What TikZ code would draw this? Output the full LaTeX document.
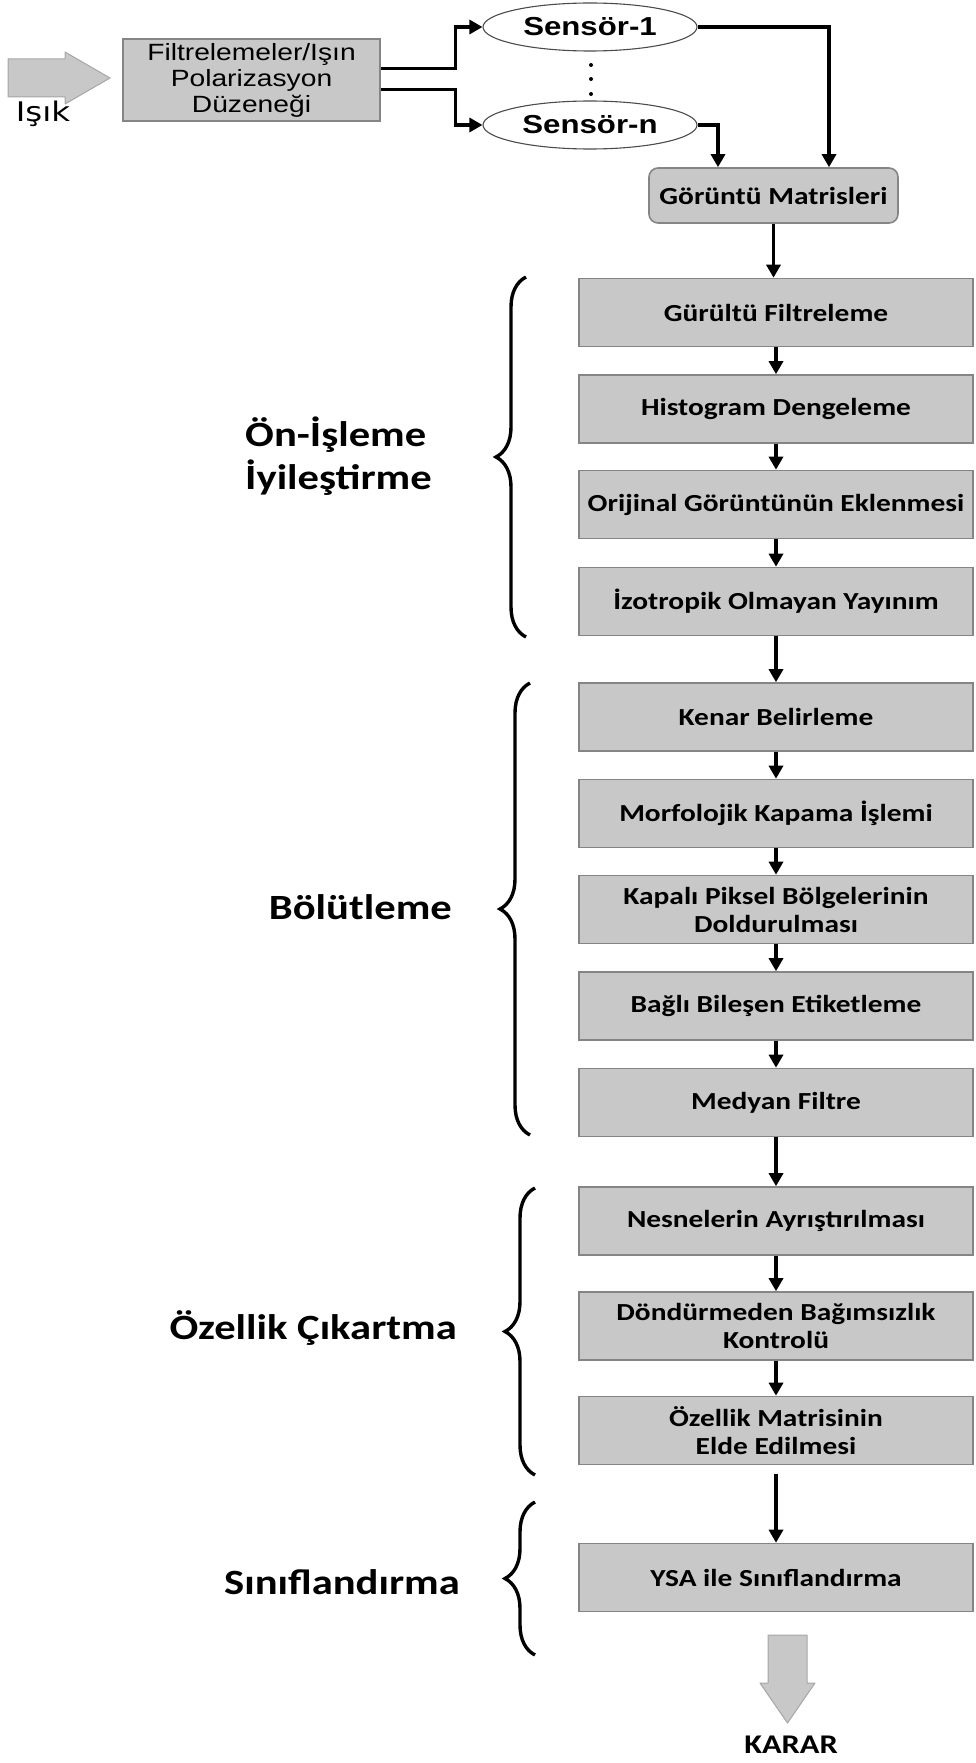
\documentclass[tikz,border=0pt]{standalone}
\usepackage{fontspec}
\setmainfont{Carlito}[FakeStretch=1.2]
\newfontfamily\arialfont{Liberation Sans}[FakeStretch=1.2]
\newfontfamily\dejafont{DejaVu Sans}[FakeStretch=1.2]
\usepackage{tikz}
\usetikzlibrary{arrows.meta,shapes.geometric,decorations.pathreplacing}

\definecolor{boxgray}{HTML}{C8C8C8}
\definecolor{edgegray}{HTML}{858585}
\definecolor{arrowedge}{HTML}{A6A6A6}

\begin{document}
\begin{tikzpicture}[
		x=1pt, y=1pt,
		every node/.style={inner sep=0pt, text=black},
		procbox/.style={rectangle, draw=edgegray, fill=boxgray, line width=1.6pt,
			minimum width=394pt, minimum height=68pt, align=center,
			font=\bfseries\fontsize{24.5}{28}\selectfont},
		sensor/.style={ellipse, draw=black!70, fill=white, line width=1.1pt,
			minimum width=214pt, minimum height=48pt,
			font=\arialfont\bfseries\fontsize{26}{30}\selectfont},
		grplabel/.style={font=\bfseries\fontsize{35.5}{43}\selectfont},
		flow/.style={line width=3.2pt, -{Triangle[width=14pt,length=13pt]}},
		grpbrace/.style={decorate, decoration={brace, amplitude=30pt}, line width=3.4pt},
		bigarrow/.style={fill=boxgray, draw=arrowedge, line width=1pt, line join=round}
	]
  \useasboundingbox (0,0) rectangle (976,-1763);

  % input side
  \draw[bigarrow] (8,-59) -- (65,-59) -- (65,-52) -- (110,-78) -- (65,-104) -- (65,-97) -- (8,-97) -- cycle;
  \node (isik) [font=\dejafont\fontsize{27}{30}\selectfont] at (43,-114) {Işık};
  \node (filt) [rectangle, draw=edgegray, fill=boxgray, line width=1.6pt,
    minimum width=257pt, minimum height=82pt, align=center,
    font=\arialfont\fontsize{23.5}{26}\selectfont] at (251.5,-80)
    {Filtrelemeler/Işın\\Polarizasyon\\Düzeneği};
  \node (s1) [sensor] at (590,-27) {Sensör-1};
  \node (sn) [sensor] at (590,-125) {Sensör-n};
  \fill (591,-65) circle (2) (591,-79) circle (2) (591,-94) circle (2);
  \node (mat) [procbox, rounded corners=9pt, minimum width=249pt, minimum height=55pt] at (773.5,-195.5) {Görüntü Matrisleri};

  \draw[flow] ([yshift=11.5pt]filt.east) -- ++(75,0) |- (s1.west);
  \draw[flow] ([yshift=-9.5pt]filt.east) -- ++(75,0) |- (sn.west);
  \draw[flow] (s1.east) -| ([xshift=55.5pt]mat.north);
  \draw[flow] (sn.east) -| ([xshift=-55.5pt]mat.north);

  % processing chain
  \node (gur) [procbox] at (776,-312.5) {Gürültü Filtreleme};
  \node (his) [procbox] at (776,-409) {Histogram Dengeleme};
  \node (ori) [procbox] at (776,-504.5) {Orijinal Görüntünün Eklenmesi};
  \node (izo) [procbox] at (776,-601.5) {İzotropik Olmayan Yayınım};
  \node (ken) [procbox] at (776,-717) {Kenar Belirleme};
  \node (mor) [procbox] at (776,-813.5) {Morfolojik Kapama İşlemi};
  \node (kap) [procbox] at (776,-909.5) {Kapalı Piksel Bölgelerinin\\Doldurulması};
  \node (bag) [procbox] at (776,-1006) {Bağlı Bileşen Etiketleme};
  \node (med) [procbox] at (776,-1102.5) {Medyan Filtre};
  \node (nes) [procbox] at (776,-1221) {Nesnelerin Ayrıştırılması};
  \node (don) [procbox] at (776,-1326) {Döndürmeden Bağımsızlık\\Kontrolü};
  \node (ozm) [procbox] at (776,-1430.5) {Özellik Matrisinin\\Elde Edilmesi};
  \node (ysa) [procbox] at (776,-1577.5) {YSA ile Sınıflandırma};

  \draw[flow] (mat.south) -- (mat.south |- gur.north);
  \draw[flow] (gur) -- (his);
  \draw[flow] (his) -- (ori);
  \draw[flow] (ori) -- (izo);
  \draw[flow] (izo) -- (ken);
  \draw[flow] (ken) -- (mor);
  \draw[flow] (mor) -- (kap);
  \draw[flow] (kap) -- (bag);
  \draw[flow] (bag) -- (med);
  \draw[flow] (med) -- (nes);
  \draw[flow] (nes) -- (don);
  \draw[flow] (don) -- (ozm);
  \draw[flow, shorten <=9pt] (ozm) -- (ysa);

  % output
  \draw[bigarrow] (768,-1635) -- (807,-1635) -- (807,-1683) -- (815,-1683) -- (787.5,-1723) -- (760,-1683) -- (768,-1683) -- cycle;
  \node (karar) [font=\bfseries\fontsize{27}{30}\selectfont] at (791,-1745) {KARAR};

  % stage braces
  \draw[grpbrace] (526,-637) -- (526,-277);
  \draw[grpbrace] (530,-1135) -- (530,-683);
  \draw[grpbrace] (535,-1475) -- (535,-1188);
  \draw[grpbrace] (535,-1655) -- (535,-1502);
  \node (onis) [grplabel, align=left, anchor=west] at (245,-456) {Ön-İşleme\\İyileştirme};
  \node (bol) [grplabel, anchor=east] at (452,-907) {Bölütleme};
  \node (ozc) [grplabel, anchor=east] at (457,-1328) {Özellik Çıkartma};
  \node (sin) [grplabel, anchor=east] at (460,-1582) {Sınıflandırma};
\end{tikzpicture}
\end{document}
